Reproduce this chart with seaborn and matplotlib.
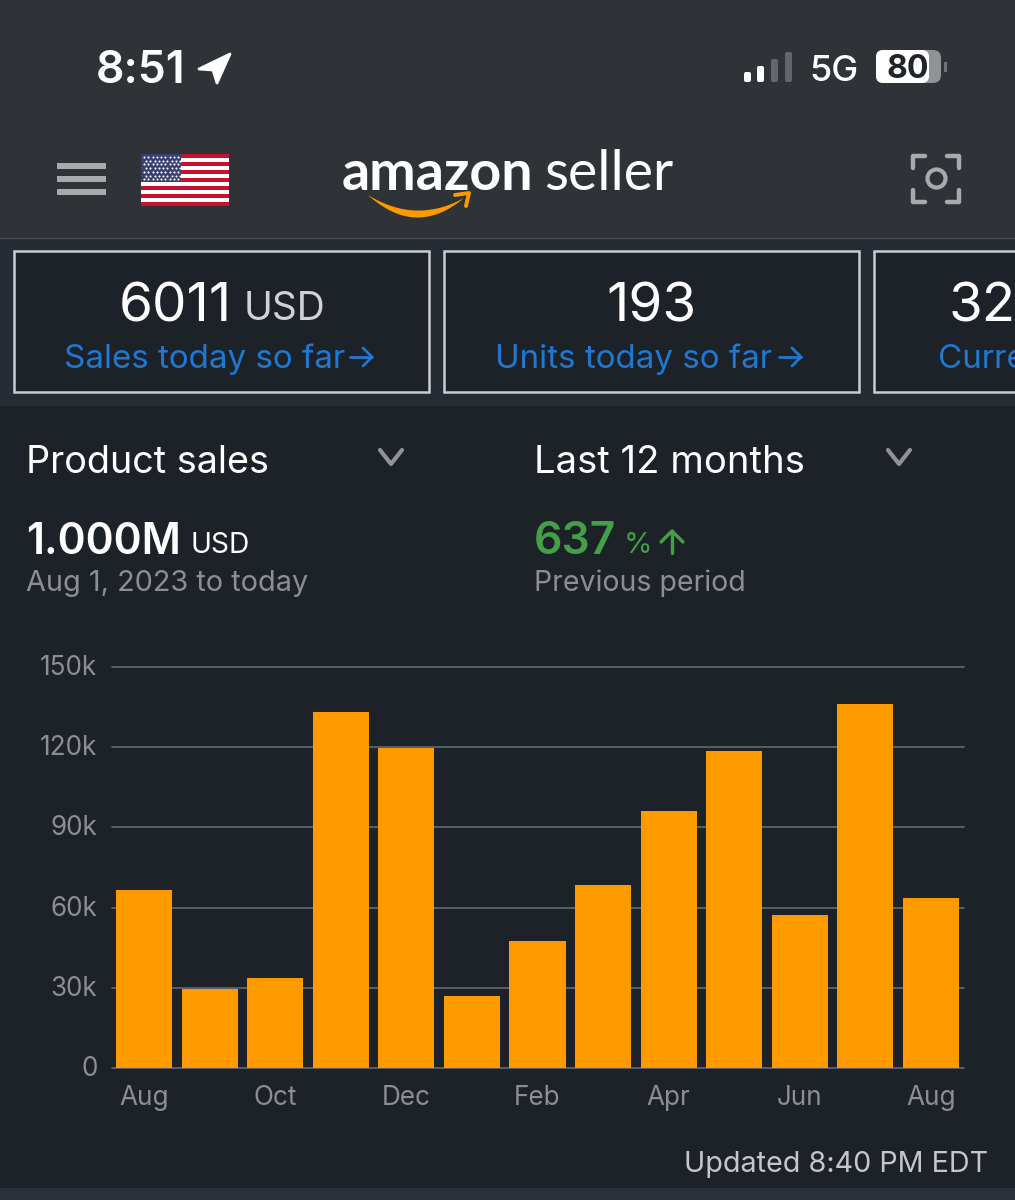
import matplotlib
matplotlib.use("Agg")
import matplotlib.pyplot as plt
from matplotlib.patches import Rectangle, FancyBboxPatch, Polygon
from matplotlib.transforms import ScaledTranslation
import numpy as np
import pandas as pd
import seaborn as sns

months = ["Aug", "Sep", "Oct", "Nov", "Dec", "Jan", "Feb", "Mar", "Apr", "May", "Jun", "Jul", "Aug"]
sales = [66600, 29500, 33700, 133200, 119700, 27000, 47500, 68500, 96100, 118600, 57200, 136200, 63600]
y_ticks = [0, 30000, 60000, 90000, 120000, 150000]
y_labels = ["0", "30k", "60k", "90k", "120k", "150k"]

BG = "#1d2128"
HEADER = "#2f3338"
STRIP = "#262c34"
ORANGE = "#ff9900"
BLUE = "#1f78d1"
GREY = "#8b8e94"
GREEN = "#43a047"
WHITE = "#ffffff"

sns.set_theme(style="dark")
plt.rcParams["font.family"] = ["Inter", "DejaVu Sans"]

fig = plt.figure(figsize=(10.15, 12), dpi=100, facecolor=BG)

# full page overlay in pixel coordinates for the app chrome
ui = fig.add_axes([0, 0, 1, 1], zorder=0)
ui.set_xlim(0, 1015)
ui.set_ylim(1200, 0)
ui.axis("off")


def label(x, y, s, size, color=WHITE, weight="normal", ha="left", family=None):
    ui.text(x, y, s, fontsize=size, color=color, fontweight=weight, ha=ha, va="baseline", family=family)


def arrow_right(x0, x1, y, color):
    ui.plot([x0, x1], [y, y], color=color, lw=2)
    ui.plot([x1 - 9, x1, x1 - 9], [y - 9, y, y + 9], color=color, lw=2)


def arrow_up(x, y0, y1, color):
    ui.plot([x, x], [y0, y1], color=color, lw=2.4)
    ui.plot([x - 11, x, x + 11], [y1 + 11, y1, y1 + 11], color=color, lw=2.4)


def chevron(x, y, color="#8f9297"):
    ui.plot([x - 11, x, x + 11], [y - 7, y + 7, y - 7], color=color, lw=3)


# backgrounds
ui.add_patch(Rectangle((0, 0), 1015, 237, color=HEADER, lw=0))
ui.add_patch(Rectangle((0, 237), 1015, 169, color=STRIP, lw=0))
ui.add_patch(Rectangle((0, 1188), 1015, 12, color="#2a3038", lw=0))
ui.plot([0, 1015], [237.5, 237.5], color="#4b5056", lw=1)

# status bar
label(96, 83, "8:51", 32, weight="semibold")
ui.add_patch(Polygon([(199, 69), (230, 54), (217, 83), (213, 70)], fc=WHITE, ec=WHITE, lw=2, joinstyle="round"))
for bx, top, col in zip([744, 757, 771, 785], [72, 66, 59, 52], [WHITE, WHITE, "#63676b", "#63676b"]):
    ui.add_patch(FancyBboxPatch((bx, top), 7, 82 - top, boxstyle="round,pad=0,rounding_size=2", color=col, lw=0))
label(809, 81, "5G", 26, weight="medium")
ui.add_patch(FancyBboxPatch((876, 50), 65, 33, boxstyle="round,pad=0,rounding_size=8", color="#8f9296", lw=0))
ui.add_patch(FancyBboxPatch((876, 50), 53, 33, boxstyle="round,pad=0,rounding_size=7", color=WHITE, lw=0))
ui.text(908, 78, "80", fontsize=23, color="#202327", fontweight="bold", ha="center", va="baseline")
ui.add_patch(Rectangle((944, 62), 3, 10, color="#6f7276", lw=0))

# menu icon
for my in [166, 179, 192]:
    ui.add_patch(Rectangle((57, my - 3), 49, 6, color="#a8abae", lw=0))

# flag
for i in range(13):
    ui.add_patch(Rectangle((141, 154 + i * 4), 88, 4, color="#c8102e" if i % 2 == 0 else WHITE, lw=0))
ui.add_patch(Rectangle((141, 154), 40, 28, color="#3a3f73", lw=0))
for r in range(7):
    for c in range(9):
        ui.plot(144 + c * 4.3 + (r % 2) * 2, 157 + r * 3.7, "o", ms=1.5, color=WHITE, mew=0)

# logo
label(342, 190, "amazon", 40, weight="bold", family="Lato")
label(544, 190, "seller", 40, family="Lato")
t = np.linspace(0, 1, 40)
lower = 195 + 84 * t * (1 - t) + 3 * t
upper = 195 + 56 * t * (1 - t) + 3 * t
ui.add_patch(Polygon(np.r_[np.c_[368 + 96 * t, lower], np.c_[368 + 96 * t, upper][::-1]], color=ORANGE, lw=0))
ui.plot([455, 469, 466], [195, 193, 206], color=ORANGE, lw=2.8)

# scan icon
for sx, sy in [(913, 156), (959, 156), (913, 202), (959, 202)]:
    dx = 12 if sx < 930 else -12
    dy = 12 if sy < 180 else -12
    ui.plot([sx + dx, sx, sx], [sy, sy, sy + dy], color="#a8abae", lw=3.2)
ui.plot(936, 178, "o", ms=13, mfc="none", mec="#a8abae", mew=3)

# summary cards
for bx, bw in [(14, 415), (444, 415), (874, 160)]:
    ui.add_patch(Rectangle((bx, 251), bw, 141, fc=BG, ec="#c9cdd1", lw=1.8))
label(119, 322, "6011", 39.5)
label(244, 320, "USD", 28, color="#d0d2d5")
label(64, 368, "Sales today so far", 23.9, color=BLUE)
arrow_right(350, 372, 357, BLUE)
label(606, 322, "193", 39.5)
label(495, 368, "Units today so far", 23.9, color=BLUE)
arrow_right(779, 801, 357, BLUE)
label(949, 322, "32", 39.5)
label(938, 368, "Curre", 23.9, color=BLUE)

# selectors and totals
label(26, 473, "Product sales", 27.2)
chevron(391, 457)
label(534, 473, "Last 12 months", 27.5)
chevron(899, 457)
label(26, 554, "1.000M", 30.6, weight="semibold")
label(191, 553, "USD", 20.3)
label(26, 591, "Aug 1, 2023 to today", 20.8, color=GREY)
label(534, 554, "637", 32, color=GREEN, weight="semibold")
label(624, 553, "%", 21, color=GREEN)
arrow_up(672, 553, 531, GREEN)
label(534, 591, "Previous period", 20.5, color=GREY)
label(988, 1172, "Updated 8:40 PM EDT", 20.7, color="#c4c6c9", ha="right")

# chart
df = pd.DataFrame({"pos": range(len(months)), "month": months, "sales": sales})
ax = fig.add_axes([112 / 1015, 1 - 1068 / 1200, 852 / 1015, 401 / 1200], zorder=1)
ax.patch.set_alpha(0)
sns.barplot(data=df, x="pos", y="sales", color=ORANGE, saturation=1, width=0.855, linewidth=0, ax=ax, zorder=3)
ax.set_xlim(-0.488, 12.503)
ax.set_ylim(0, 150000)
ax.set_yticks(y_ticks)
ax.set_yticklabels(y_labels, fontsize=18.8, color=GREY)
ax.set_xticks(df["pos"][::2])
ax.set_xticklabels(df["month"][::2], fontsize=18.8, color=GREY)
ax.set_xlabel("")
ax.set_ylabel("")
ax.grid(axis="y", color="#5f646a", lw=1.3, clip_on=False)
ax.grid(axis="x", visible=False)
ax.tick_params(axis="y", length=0, pad=10.5)
ax.tick_params(axis="x", length=0, pad=12)
sns.despine(ax=ax, left=True, right=True, top=True, bottom=True)

# tick labels sit a little above their grid lines
for tick in ax.get_yticklabels():
    tick.set_transform(tick.get_transform() + ScaledTranslation(0, 1.5 / 72, fig.dpi_scale_trans))

fig.savefig("out.png", dpi=100, facecolor=BG)
